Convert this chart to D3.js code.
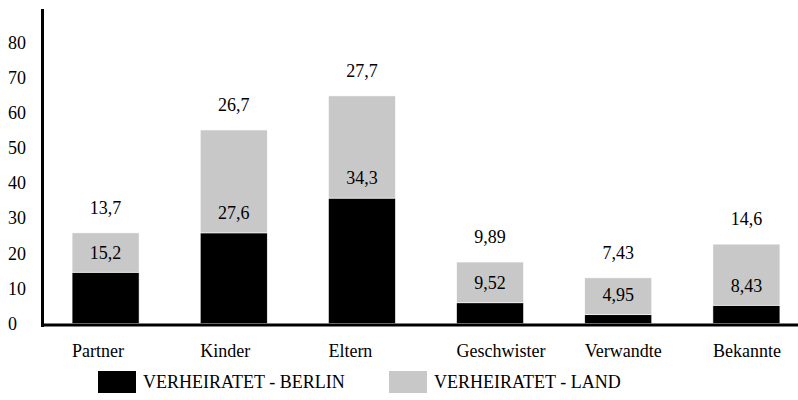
<!DOCTYPE html>
<html>
<head>
<meta charset="utf-8">
<script src="https://cdn.jsdelivr.net/npm/d3@7"></script>
<style>
  body { margin: 0; }
</style>
</head>
<body>
<svg width="798" height="400" id="chart"></svg>
<script>
const categories = ["Partner", "Kinder", "Eltern", "Geschwister", "Verwandte", "Bekannte"];
const seriesNames = ["VERHEIRATET - BERLIN", "VERHEIRATET - LAND"];
const berlin = [14.6, 25.8, 35.7, 5.9, 2.5, 5.2];
const land = [11.2, 29.3, 29.1, 11.6, 10.5, 17.4];
const berlinLabels = [15.2, 27.6, 34.3, 9.52, 4.95, 8.43];
const landLabels = [13.7, 26.7, 27.7, 9.89, 7.43, 14.6];
const yTicks = [0, 10, 20, 30, 40, 50, 60, 70, 80];
const colors = ["#000000", "#c8c8c8"];

const svg = d3.select("#chart");
const fmt = v => String(v).replace(".", ",");
function txt(sel) {
  return sel.attr("font-family", "Liberation Serif").attr("font-size", 18).attr("fill", "#000");
}

const x = d3.scaleBand().domain(categories).range([41.5, 810.5])
  .paddingInner(0.477).paddingOuter(0.2385);
const y = d3.scaleLinear().domain([0, 80]).range([323.5, 42.5]);

const rows = categories.map((c, i) => ({ cat: c, berlin: berlin[i], land: land[i], bl: berlinLabels[i], ll: landLabels[i] }));
const stacked = d3.stack().keys(["berlin", "land"])(rows);

// bars
svg.append("g").selectAll("g").data(stacked).join("g")
  .attr("fill", (d, i) => colors[i])
  .selectAll("rect").data(d => d).join("rect")
  .attr("x", d => x(d.data.cat))
  .attr("width", x.bandwidth())
  .attr("y", d => y(d[1]))
  .attr("height", d => y(d[0]) - y(d[1]))
  .attr("stroke", "#fff").attr("stroke-width", 0.6);

// axes lines
svg.append("line").attr("x1", 42.5).attr("x2", 42.5).attr("y1", 9).attr("y2", 327)
  .attr("stroke", "#000").attr("stroke-width", 3);
svg.append("line").attr("x1", 41).attr("x2", 798).attr("y1", 325).attr("y2", 325)
  .attr("stroke", "#000").attr("stroke-width", 3);

// value labels
rows.forEach(r => {
  const cx = x(r.cat) + x.bandwidth() / 2;
  txt(svg.append("text")).attr("text-anchor", "middle")
    .attr("x", cx).attr("y", y(r.berlin) - 20).attr("dy", "0.35em").text(fmt(r.bl));
  txt(svg.append("text")).attr("text-anchor", "middle")
    .attr("x", cx).attr("y", y(r.berlin + r.land) - 25).attr("dy", "0.35em").text(fmt(r.ll));
});

// y tick labels
yTicks.forEach(t => {
  txt(svg.append("text")).attr("x", 8).attr("y", y(t)).attr("dy", "0.35em").text(t);
});

// category labels
categories.forEach(c => {
  txt(svg.append("text")).attr("x", x(c)).attr("y", 357).text(c);
});

// legend
const legX = [98, 389];
seriesNames.forEach((n, i) => {
  svg.append("rect").attr("x", legX[i]).attr("y", 371).attr("width", 38).attr("height", 22).attr("fill", colors[i]);
  txt(svg.append("text")).attr("x", legX[i] + 45).attr("y", 388).text(n);
});
</script>
</body>
</html>
